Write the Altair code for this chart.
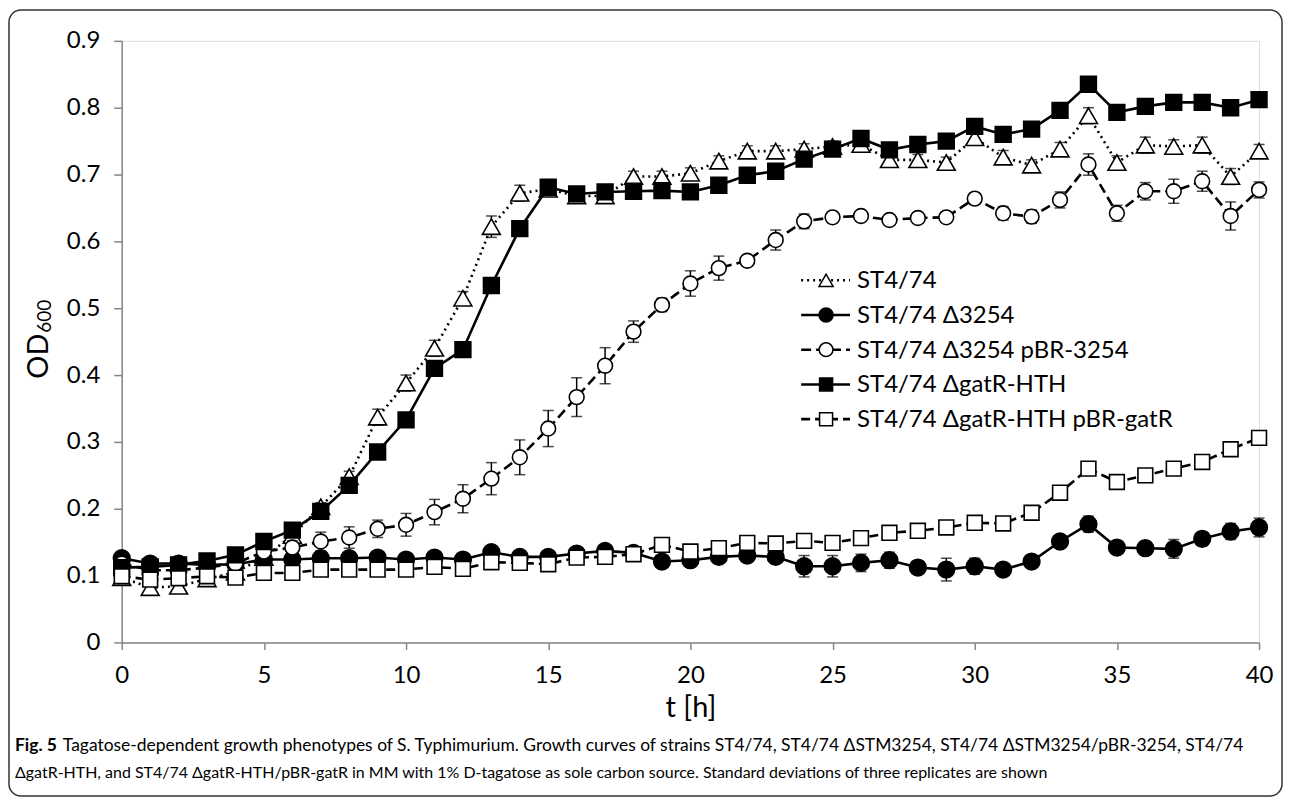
import altair as alt
import pandas as pd

t_hours = list(range(41))

names = ["ST4/74", "ST4/74 Δ3254", "ST4/74 Δ3254 pBR-3254",
         "ST4/74 ΔgatR-HTH", "ST4/74 ΔgatR-HTH pBR-gatR"]

wt = [0.097, 0.082, 0.084, 0.095, 0.105, 0.127, 0.160, 0.203, 0.248, 0.337,
      0.388, 0.440, 0.515, 0.622, 0.672, 0.678, 0.668, 0.668, 0.697, 0.697,
      0.702, 0.720, 0.735, 0.735, 0.738, 0.742, 0.745, 0.722, 0.722, 0.718,
      0.755, 0.726, 0.714, 0.738, 0.788, 0.718, 0.744, 0.742, 0.744, 0.697, 0.735]
wt_sd = [0.005, 0.005, 0.005, 0.005, 0.005, 0.005, 0.005, 0.006, 0.008, 0.012,
         0.012, 0.012, 0.010, 0.016, 0.012, 0.008, 0.006, 0.006, 0.008, 0.008,
         0.008, 0.008, 0.008, 0.008, 0.008, 0.008, 0.008, 0.008, 0.008, 0.008,
         0.010, 0.010, 0.008, 0.010, 0.012, 0.010, 0.012, 0.010, 0.012, 0.012, 0.010]

d3254 = [0.126, 0.118, 0.118, 0.116, 0.117, 0.124, 0.124, 0.126, 0.126, 0.127,
         0.124, 0.127, 0.124, 0.135, 0.128, 0.128, 0.133, 0.137, 0.134, 0.121,
         0.123, 0.128, 0.130, 0.128, 0.114, 0.114, 0.119, 0.123, 0.112, 0.109,
         0.114, 0.109, 0.121, 0.151, 0.177, 0.142, 0.141, 0.140, 0.155, 0.166, 0.172]
d3254_sd = [0.005, 0.005, 0.005, 0.005, 0.005, 0.005, 0.005, 0.005, 0.005, 0.005,
            0.005, 0.005, 0.005, 0.005, 0.005, 0.005, 0.005, 0.005, 0.005, 0.008,
            0.010, 0.008, 0.010, 0.008, 0.016, 0.016, 0.013, 0.012, 0.010, 0.017,
            0.012, 0.008, 0.006, 0.008, 0.012, 0.008, 0.010, 0.014, 0.010, 0.012, 0.014]

d3254_comp = [0.118, 0.108, 0.108, 0.112, 0.118, 0.136, 0.142, 0.151, 0.157, 0.170,
              0.176, 0.195, 0.215, 0.245, 0.277, 0.320, 0.367, 0.414, 0.465, 0.505,
              0.537, 0.560, 0.571, 0.602, 0.630, 0.636, 0.638, 0.632, 0.635, 0.636,
              0.664, 0.642, 0.637, 0.662, 0.715, 0.642, 0.675, 0.675, 0.690, 0.638, 0.677]
d3254_comp_sd = [0.005, 0.005, 0.005, 0.005, 0.005, 0.008, 0.010, 0.014, 0.016, 0.013,
                 0.017, 0.019, 0.021, 0.024, 0.026, 0.027, 0.029, 0.027, 0.016, 0.010,
                 0.019, 0.018, 0.008, 0.015, 0.011, 0.008, 0.006, 0.006, 0.006, 0.006,
                 0.008, 0.010, 0.010, 0.012, 0.016, 0.012, 0.013, 0.018, 0.015, 0.021, 0.012]

dgatr = [0.112, 0.113, 0.116, 0.122, 0.131, 0.151, 0.168, 0.196, 0.235, 0.285,
         0.333, 0.410, 0.438, 0.534, 0.619, 0.681, 0.671, 0.674, 0.675, 0.676,
         0.674, 0.684, 0.699, 0.705, 0.723, 0.738, 0.754, 0.737, 0.745, 0.750,
         0.772, 0.760, 0.768, 0.796, 0.835, 0.793, 0.802, 0.808, 0.808, 0.800, 0.812]
dgatr_sd = [0.005] * 40 + [0.008]

dgatr_comp = [0.099, 0.094, 0.096, 0.099, 0.097, 0.104, 0.104, 0.109, 0.109, 0.109,
              0.109, 0.113, 0.110, 0.120, 0.119, 0.117, 0.127, 0.128, 0.132, 0.146,
              0.136, 0.141, 0.149, 0.148, 0.152, 0.149, 0.156, 0.164, 0.167, 0.172,
              0.179, 0.178, 0.194, 0.224, 0.260, 0.240, 0.250, 0.260, 0.270, 0.289, 0.306]
dgatr_comp_sd = [0.005] * 41

values = [wt, d3254, d3254_comp, dgatr, dgatr_comp]
sds = [wt_sd, d3254_sd, d3254_comp_sd, dgatr_sd, dgatr_comp_sd]

y_ticks = [0, 0.1, 0.2, 0.3, 0.4, 0.5, 0.6, 0.7, 0.8, 0.9]
x_ticks = [0, 5, 10, 15, 20, 25, 30, 35, 40]

caption1_bold = "Fig. 5"
caption1 = ("Tagatose-dependent growth phenotypes of S. Typhimurium. Growth curves of strains "
            "ST4/74, ST4/74 ΔSTM3254, ST4/74 ΔSTM3254/pBR-3254, ST4/74")
caption2 = ("ΔgatR-HTH, and ST4/74 ΔgatR-HTH/pBR-gatR in MM with 1% D-tagatose as sole "
            "carbon source. Standard deviations of three replicates are shown")

# styles: (shape, fill, dash, size, legend size)
styles = [
    ("triangle-up", "white", [2, 4], 320, 200),
    ("circle", "black", [], 280, 200),
    ("circle", "white", [10, 5], 220, 190),
    ("square", "black", [], 250, 170),
    ("square", "white", [9, 5], 220, 170),
]

GRAY = "#868686"
FONT = "Lato"

X = alt.X("t:Q", scale=alt.Scale(domain=[0, 40], nice=False, zero=False),
          axis=alt.Axis(values=x_ticks, title="t [h]", grid=False, domainColor=GRAY,
                        tickColor=GRAY, domainWidth=1.5, tickWidth=1.5, tickSize=7,
                        labelFont=FONT, labelFontSize=24, labelColor="black",
                        labelPadding=14, labelFlush=False, titleFont=FONT,
                        titleFontSize=29, titleFontWeight="normal", titleColor="black",
                        titlePadding=6))
Y = alt.Y("od:Q", scale=alt.Scale(domain=[0, 0.9], nice=False, zero=True),
          axis=alt.Axis(values=y_ticks, format=".1~f", title=None, grid=False,
                        domainColor=GRAY, tickColor=GRAY, domainWidth=1.5, tickWidth=1.5,
                        tickSize=8, labelFont=FONT, labelFontSize=24, labelColor="black",
                        labelPadding=14, labelFlush=False))

layers = []
for name, vals, sd, st in zip(names, values, sds, styles):
    shape, fill, dash, size, _ = st
    df = pd.DataFrame({"t": t_hours, "od": vals, "sd": sd})
    df["lo"] = df["od"] - df["sd"]
    df["hi"] = df["od"] + df["sd"]
    df["series"] = name
    base = alt.Chart(df)
    layers.append(base.mark_rule(color="black", strokeWidth=1.5).encode(
        x=X, y=alt.Y("lo:Q"), y2="hi:Q"))
    layers.append(base.mark_tick(color="black", thickness=1.5, size=11,
                                 orient="horizontal").encode(x=X, y=alt.Y("lo:Q")))
    layers.append(base.mark_tick(color="black", thickness=1.5, size=11,
                                 orient="horizontal").encode(x=X, y=alt.Y("hi:Q")))
    line_kw = dict(color="black", strokeWidth=2.6)
    if dash:
        line_kw["strokeDash"] = dash
    layers.append(base.mark_line(**line_kw).encode(x=X, y=Y))
    layers.append(base.mark_point(shape=shape, filled=True, fill=fill, stroke="black",
                                  strokeWidth=1.6, size=size, opacity=1).encode(x=X, y=Y))

# legend (drawn by hand)
leg_x0, leg_x1, leg_mx, leg_tx = 681, 730, 706, 737
leg_y0, leg_dy = 240, 34.8
for i, (name, st) in enumerate(zip(names, styles)):
    shape, fill, dash, _, lsize = st
    yy = leg_y0 + i * leg_dy
    ld = pd.DataFrame({"label": [name]})
    lc = alt.Chart(ld)
    rule_kw = dict(color="black", strokeWidth=2.6)
    if dash:
        rule_kw["strokeDash"] = dash
    layers.append(lc.mark_rule(**rule_kw).encode(
        x=alt.value(leg_x0), x2=alt.value(leg_x1), y=alt.value(yy)))
    layers.append(lc.mark_point(shape=shape, filled=True, fill=fill, stroke="black",
                                strokeWidth=1.5, size=lsize, opacity=1).encode(
        x=alt.value(leg_mx), y=alt.value(yy)))
    layers.append(lc.mark_text(align="left", baseline="middle", font=FONT, fontSize=24,
                               color="black").encode(
        x=alt.value(leg_tx), y=alt.value(yy + 1), text="label:N"))

# y axis title OD600
ytd = pd.DataFrame({"a": ["OD"], "b": ["600"]})
layers.append(alt.Chart(ytd).mark_text(angle=270, align="center", baseline="middle",
                                       font=FONT, fontSize=29, color="black").encode(
    x=alt.value(-83), y=alt.value(316), text="a:N"))
layers.append(alt.Chart(ytd).mark_text(angle=270, align="center", baseline="middle",
                                       font=FONT, fontSize=19, color="black").encode(
    x=alt.value(-77), y=alt.value(276), text="b:N"))

# caption
capd = pd.DataFrame({"b": [caption1_bold], "c1": [caption1], "c2": [caption2]})
layers.append(alt.Chart(capd).mark_text(align="left", baseline="alphabetic", font=FONT,
                                        fontSize=17.5, fontWeight="bold", color="black").encode(
    x=alt.value(-107), y=alt.value(712), text="b:N"))
layers.append(alt.Chart(capd).mark_text(align="left", baseline="alphabetic", font=FONT,
                                        fontSize=17.5, color="black").encode(
    x=alt.value(-59), y=alt.value(712), text="c1:N"))
layers.append(alt.Chart(capd).mark_text(align="left", baseline="alphabetic", font=FONT,
                                        fontSize=16, color="black").encode(
    x=alt.value(-107), y=alt.value(739), text="c2:N"))

# rounded frame
layers.append(alt.Chart(capd).mark_rect(fillOpacity=0, stroke="#333333", strokeWidth=1.5,
                                        cornerRadius=12).encode(
    x=alt.value(-113), x2=alt.value(1163), y=alt.value(-31), y2=alt.value(757)))

chart = alt.layer(*layers).properties(
    width=1140, height=603,
    padding={"left": 114, "top": 32, "right": 26, "bottom": 160},
    autosize=alt.AutoSizeParams(type="none"),
).configure_view(stroke=None).configure(background="white")

chart.save("out.html", embed_options={"renderer": "svg", "actions": False})
